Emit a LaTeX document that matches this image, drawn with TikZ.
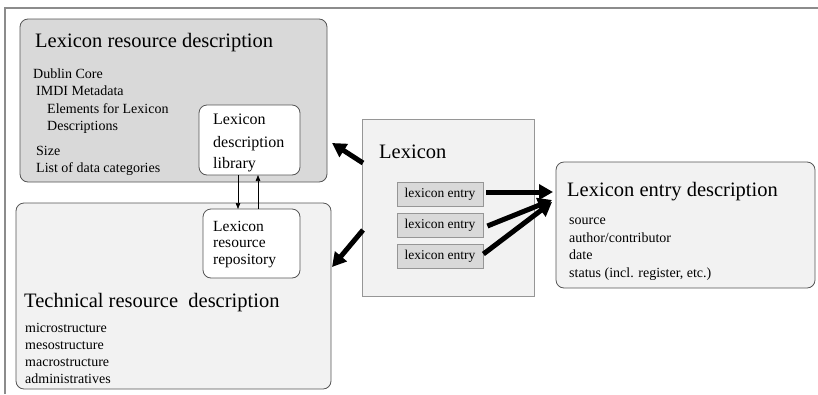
\documentclass[tikz,border=0pt]{standalone}
\usepackage{fontspec}
\setmainfont{Liberation Serif}
\usetikzlibrary{arrows.meta,calc}

\definecolor{darkfill}{RGB}{217,217,217}
\definecolor{lightfill}{RGB}{242,242,242}
\definecolor{boxline}{RGB}{85,85,85}
\definecolor{frameline}{RGB}{140,140,140}
\definecolor{lexline}{RGB}{150,150,150}

\begin{document}
\begin{tikzpicture}[
  x=1pt, y=-1pt,
  panel/.style={draw=boxline, line width=0.8pt, rounded corners=8pt,
    anchor=north west, inner sep=0pt, outer sep=0pt},
  title/.style={anchor=base west, inner sep=0pt, font=\fontsize{20.5}{24}\selectfont},
  item/.style={anchor=base west, inner sep=0pt, font=\fontsize{14}{17}\selectfont},
  inbox/.style={anchor=base west, inner sep=0pt, font=\fontsize{15.5}{18}\selectfont},
  entrybox/.style={draw=lexline, fill=darkfill, line width=0.8pt,
    minimum width=86pt, minimum height=24pt, inner sep=0pt,
    font=\fontsize{13.5}{16}\selectfont},
  bigarrow/.style={-{Triangle[length=14pt,width=15pt]}, line width=5pt},
  smallarrow/.style={-{Triangle[length=6pt,width=4.5pt]}, line width=0.7pt}
]
\useasboundingbox (0,0) rectangle (818,394);

% outer frame
\draw[frameline, line width=1.2pt] (5,394) -- (5,8) -- (818,8);

% lexicon resource description
\node[panel, fill=darkfill, minimum width=307pt, minimum height=163pt] (A) at (20,19) {};
\node[title] (Atitle) at (35,47) {Lexicon resource description};
\node[item] (a1) at (33,78)  {Dublin Core};
\node[item] (a2) at (36,95)  {IMDI Metadata};
\node[item] (a3) at (47,113) {Elements for Lexicon};
\node[item] (a4) at (47,130) {Descriptions};
\node[item] (a5) at (36,155) {Size};
\node[item] (a6) at (36,172) {List of data categories};

% technical resource description
\node[panel, fill=lightfill, minimum width=315pt, minimum height=186pt] (C) at (16,203) {};
\node[title] (Ctitle) at (24,307) {Technical resource~~description};
\node[item] (c1) at (25,332) {microstructure};
\node[item] (c2) at (25,349) {mesostructure};
\node[item] (c3) at (25,366) {macrostructure};
\node[item] (c4) at (25,383) {administratives};

% library and repository
\node[panel, fill=white, minimum width=101pt, minimum height=70pt] (B) at (199,105) {};
\node[inbox, font=\fontsize{16}{19}\selectfont] (b1) at (213,124) {Lexicon};
\node[inbox, font=\fontsize{16}{19}\selectfont] (b2) at (213,147) {description};
\node[inbox, font=\fontsize{16}{19}\selectfont] (b3) at (213,168) {library};

\node[panel, fill=white, minimum width=97pt, minimum height=69pt] (D) at (203,209) {};
\node[inbox] (d1) at (213,231) {Lexicon};
\node[inbox] (d2) at (213,247) {resource};
\node[inbox] (d3) at (213,264) {repository};

\draw[smallarrow] ([xshift=39pt]B.south west) -- ([xshift=39pt]B.south west |- D.north);
\draw[smallarrow] ([xshift=55pt]D.north west) -- ([xshift=55pt]D.north west |- B.south);

% lexicon
\node[draw=lexline, fill=lightfill, line width=0.8pt, anchor=north west,
      inner sep=0pt, outer sep=0pt, minimum width=172pt, minimum height=177pt] (E) at (362,119) {};
\node[title] (Etitle) at (379,158) {Lexicon};
\node[entrybox] (e1) at (440,194) {lexicon entry};
\node[entrybox] (e2) at (440,225) {lexicon entry};
\node[entrybox] (e3) at (440,256) {lexicon entry};

% lexicon entry description
\node[panel, fill=lightfill, minimum width=259pt, minimum height=126pt] (F) at (556,162) {};
\node[title] (Ftitle) at (567,196) {Lexicon entry description};
\node[item] (f1) at (569,224) {source};
\node[item] (f2) at (569,242) {author/contributor};
\node[item] (f3) at (569,259) {date};
\node[item] (f4) at (569,277) {status (incl. register, etc.)};

% thick connectors
\draw[bigarrow] ($(E.north west)+(1,44)$) -- ($(A.north east)+(5,124)$);
\draw[bigarrow] ($(E.north west)+(1,111)$) -- ($(C.north east)+(1,64)$);
\draw[bigarrow] ($(e1.east)+(3,-2)$) -- ($(F.north west)+(-3,30)$);
\draw[bigarrow] ($(e2.east)+(4,1)$) -- ($(F.north west)+(-4,38)$);
\draw[bigarrow] ($(e3.east)+(0,-2)$) -- ($(F.north west)+(-4,40)$);
\end{tikzpicture}
\end{document}
